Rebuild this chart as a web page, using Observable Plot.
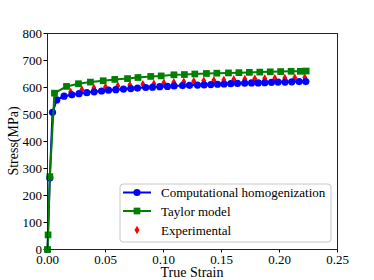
<!DOCTYPE html>
<html><head><meta charset="utf-8">
<script src="https://cdn.jsdelivr.net/npm/d3@7"></script>
<script src="https://cdn.jsdelivr.net/npm/@observablehq/plot@0.6"></script>
<style>body{margin:0;background:#fff} svg, svg text{font-family:"Liberation Serif","Times New Roman","DejaVu Serif",serif !important}</style>
</head><body><div id="chart"></div>
<script>
// Computational homogenization (blue circles)
const compStrain = [0, 0.002, 0.0043, 0.008, 0.0143, 0.021, 0.0272, 0.0339, 0.0402, 0.0466, 0.0526, 0.0589, 0.0655, 0.0718, 0.0776, 0.0847, 0.0905, 0.0968, 0.1034, 0.1091, 0.1164, 0.1224, 0.1293, 0.135, 0.1408, 0.1466, 0.1522, 0.158, 0.1638, 0.17, 0.1759, 0.1816, 0.1873, 0.1931, 0.1988, 0.2048, 0.2106, 0.2169, 0.2227];
const compStress = [0, 265, 508, 554, 568, 573, 577, 581, 584, 587, 590, 592, 594, 596, 598, 600, 601, 603, 604, 606, 607, 608, 609, 610, 611, 612, 613, 614, 615, 616, 617, 617, 618, 619, 620, 620, 621, 622, 622];
// Taylor model (green squares)
const taylorStrain = [0, 0.0005, 0.002, 0.006, 0.0164, 0.0267, 0.037, 0.048, 0.058, 0.069, 0.078, 0.089, 0.098, 0.109, 0.118, 0.127, 0.137, 0.146, 0.156, 0.165, 0.174, 0.183, 0.192, 0.201, 0.210, 0.218, 0.223];
const taylorStress = [0, 54, 270, 579, 604, 614, 620, 625, 630, 633, 637, 641, 643, 647, 648, 650, 652, 653, 654, 655, 656, 657, 658, 659, 660, 660, 661];
// Experimental (red diamonds)
const expStrain = [0.020, 0.0296, 0.040, 0.050, 0.0606, 0.071, 0.0822, 0.0917, 0.1003, 0.1089, 0.1175, 0.1261, 0.1347, 0.1434, 0.152, 0.1606, 0.1701, 0.1787, 0.1873, 0.196, 0.2046, 0.2132, 0.2218];
const expStress = [583, 592, 598, 602, 606, 609, 612, 614, 617, 619, 621, 623, 625, 627, 628, 630, 631, 632, 633, 634, 635, 636, 637];

const xTicks = [0, 0.05, 0.10, 0.15, 0.20, 0.25];
const yTicks = [0, 100, 200, 300, 400, 500, 600, 700, 800];
const seriesNames = ["Computational homogenization", "Taylor model", "Experimental"];
const seriesColors = ["#0000ff", "#008000", "#ff0000"];
const xLabel = "True Strain";
const yLabel = "Stress(MPa)";

const comp = compStrain.map((x, i) => ({x, y: compStress[i]}));
const taylor = taylorStrain.map((x, i) => ({x, y: taylorStress[i]}));
const exp = expStrain.map((x, i) => ({x, y: expStress[i]}));

const FONT = '"Liberation Serif", "Times New Roman", serif';
const W = 374, H = 280, mL = 47, mR = 37, mT = 33, mB = 31;
const chart = Plot.plot({
  width: W, height: H,
  marginLeft: mL, marginRight: mR, marginTop: mT, marginBottom: mB,
  style: {fontFamily: FONT, fontSize: "13px", color: "black", background: "white", overflow: "visible"},
  x: {domain: [0, 0.25]},
  y: {domain: [0, 800]},
  marks: [
    Plot.axisX({ticks: xTicks, tickFormat: d3.format(".2f"), tickSize: 3.5, tickPadding: 1.5, label: null}),
    Plot.axisY({ticks: yTicks, tickSize: 3.5, tickPadding: 2, label: null}),
    Plot.dot(exp, {x: "x", y: "y", symbol: "diamond", r: 2.6, fill: seriesColors[2], stroke: "none"}),
    Plot.line(comp, {x: "x", y: "y", stroke: seriesColors[0], strokeWidth: 2}),
    Plot.dot(comp, {x: "x", y: "y", symbol: "circle", r: 3.6, fill: seriesColors[0], stroke: "none"}),
    Plot.line(taylor, {x: "x", y: "y", stroke: seriesColors[1], strokeWidth: 2}),
    Plot.dot(taylor, {x: "x", y: "y", symbol: "square", r: 3.8, fill: seriesColors[1], stroke: "none"}),
    Plot.frame({stroke: "#222", strokeWidth: 1})
  ]
});
document.getElementById("chart").appendChild(chart);

const svg = d3.select(chart);
// axis labels
svg.append("text").attr("x", (mL + W - mR) / 2).attr("y", 277).attr("text-anchor", "middle")
  .attr("font-family", FONT).attr("font-size", "14px").attr("fill", "black").text(xLabel);
svg.append("text").attr("transform", `translate(18,${(mT + H - mB) / 2}) rotate(-90)`).attr("text-anchor", "middle")
  .attr("font-family", FONT).attr("font-size", "14px").attr("fill", "black").text(yLabel);

// legend
const lx = 120, ly = 184, lw = 211, lh = 58;
const lg = svg.append("g").attr("text-anchor", "start");
lg.append("rect").attr("x", lx).attr("y", ly).attr("width", lw).attr("height", lh).attr("rx", 3).attr("ry", 3)
  .style("fill", "white").style("fill-opacity", 0.85).style("stroke", "#c8c8c8").style("stroke-width", 1);
const rowY = [192.5, 211, 230];
const syms = [d3.symbolCircle, d3.symbolSquare, d3.symbolDiamond];
const symSize = [Math.PI * 3.6 * 3.6, Math.PI * 3.8 * 3.8, Math.PI * 2.6 * 2.6];
seriesNames.forEach((name, i) => {
  const y = rowY[i];
  if (i < 2) lg.append("line").attr("x1", 123).attr("x2", 151).attr("y1", y).attr("y2", y)
    .style("stroke", seriesColors[i]).style("stroke-width", 2);
  lg.append("path").attr("d", d3.symbol(syms[i], symSize[i])()).attr("transform", `translate(137,${y})`)
    .style("fill", seriesColors[i]);
  lg.append("text").attr("x", 161).attr("y", y).attr("dy", "0.35em").attr("text-anchor", "start")
    .attr("font-family", FONT).attr("font-size", "13px").attr("fill", "black").text(name);
});
</script>
</body></html>
